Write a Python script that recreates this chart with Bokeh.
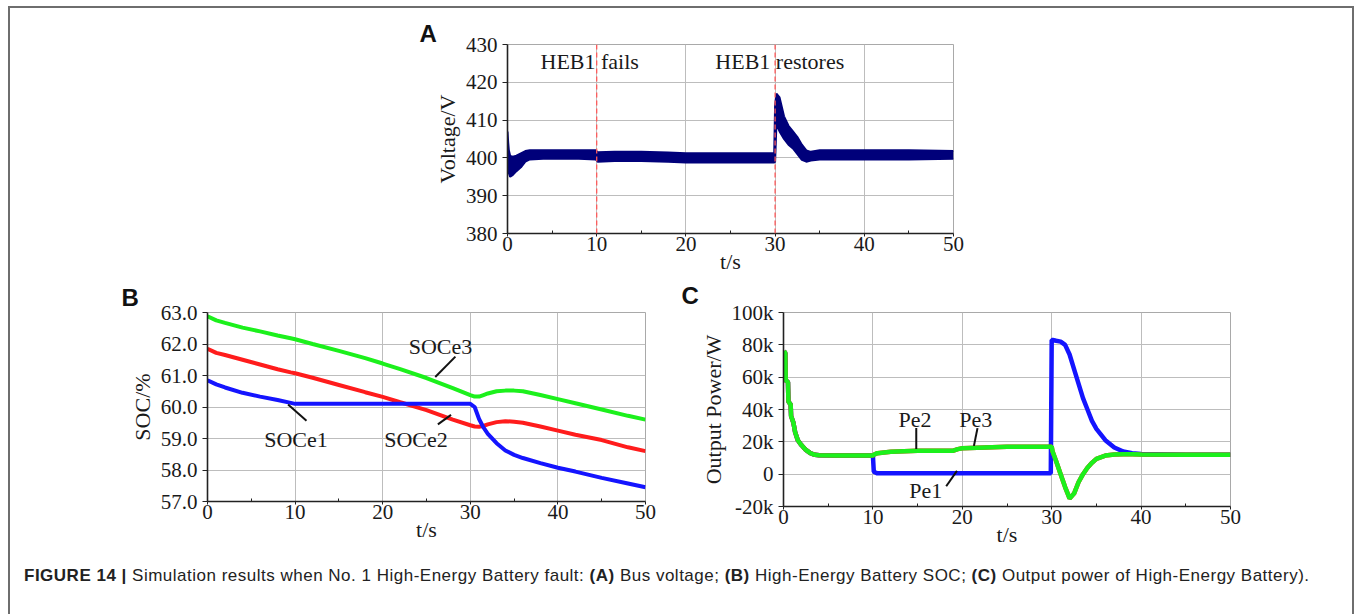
from bokeh.plotting import figure
from bokeh.models import Div, Span, FixedTicker, Range1d
from bokeh.layouts import column, row
from bokeh.embed import file_html
from bokeh.resources import INLINE
from bokeh.core.properties import value

SERIF = "Liberation Serif"
SANS = "Liberation Sans"
INK = "#1a1a1a"

# ---------------- data ----------------
x_ticks = [0, 10, 20, 30, 40, 50]
x_minor = [5, 15, 25, 35, 45]

# Panel A : bus voltage (upper / lower envelope of the ripple band)
voltage_ticks = [380, 390, 400, 410, 420, 430]
t_a = [0, 0.08, 0.15, 0.3, 0.6, 1.0, 1.5, 2.0, 2.5, 4, 6, 8, 9.9, 10.1, 12, 15, 18, 20,
       25, 29.9, 30.0, 30.15, 30.5, 31.0, 31.5, 32.0, 32.5, 33.0, 33.5, 34.0, 35, 40, 45, 50]
v_upper = [407, 404, 402, 400.5, 400.3, 400.6, 401.2, 401.8, 402.0, 402.0, 402.0, 402.0,
           402.0, 401.5, 401.6, 401.6, 401.4, 401.2, 401.2, 401.2, 414, 417, 416, 411,
           408.5, 407, 405.5, 403.5, 402.0, 401.6, 402, 402, 402, 401.8]
v_lower = [399, 397, 396, 395, 395.5, 396.5, 397.5, 399.0, 399.6, 399.8, 399.8, 399.8,
           399.6, 399.0, 399.2, 399.2, 399.0, 398.8, 398.8, 398.8, 399.0, 409, 407, 405,
           403.5, 402.5, 401, 399.5, 399.0, 399.3, 399.6, 399.6, 399.6, 399.8]
event_times = [10, 30]
event_names = ["HEB1 fails", "HEB1 restores"]

# Panel B : SOC of the three high-energy batteries
soc_ticks = [57, 58, 59, 60, 61, 62, 63]
soc_tick_labels = ["57.0", "58.0", "59.0", "60.0", "61.0", "62.0", "63.0"]
t_b = [0, 1, 2, 4, 6, 8, 9.5, 10, 12, 15, 18, 20, 22, 25, 28, 30, 30.5, 31, 31.5, 32,
       33, 34, 35, 36, 38, 40, 42, 45, 48, 50]
soc_e1 = [60.85, 60.72, 60.62, 60.45, 60.33, 60.22, 60.13, 60.1, 60.1, 60.1, 60.1, 60.1,
          60.1, 60.1, 60.1, 60.1, 60.0, 59.62, 59.35, 59.15, 58.85, 58.62, 58.48, 58.38,
          58.22, 58.07, 57.95, 57.75, 57.57, 57.45]
soc_e2 = [61.85, 61.72, 61.65, 61.5, 61.35, 61.2, 61.1, 61.07, 60.93, 60.7, 60.47, 60.32,
          60.15, 59.9, 59.6, 59.42, 59.38, 59.37, 59.4, 59.45, 59.52, 59.55, 59.53, 59.5,
          59.38, 59.25, 59.12, 58.95, 58.72, 58.6]
soc_e3 = [62.88, 62.75, 62.67, 62.52, 62.4, 62.27, 62.18, 62.15, 62.0, 61.78, 61.55, 61.38,
          61.2, 60.92, 60.6, 60.38, 60.33, 60.33, 60.38, 60.43, 60.5, 60.52, 60.52, 60.5,
          60.38, 60.25, 60.12, 59.92, 59.72, 59.6]

# Panel C : output power of the three high-energy batteries
power_ticks = [-20000, 0, 20000, 40000, 60000, 80000, 100000]
power_tick_labels = ["-20k", "0", "20k", "40k", "60k", "80k", "100k"]
t_c = [0.05, 0.2, 0.25, 0.5, 0.55, 0.8, 0.85, 1.1, 1.3, 1.6, 2.0, 2.5, 3.0, 3.5, 4.0, 6,
       9.9, 10.0, 10.1, 10.5, 12, 15, 19, 19.5, 20, 25, 29.9, 30.0, 30.1, 30.5, 31, 31.5,
       32, 32.5, 33, 33.5, 34, 34.5, 35, 36, 37, 38, 39, 40, 45, 50]
p_e1 = [76000, 75000, 58000, 57000, 45000, 43000, 36000, 32000, 26000, 21000, 18000, 15000,
        13000, 12000, 11700, 11500, 11500, 11500, 1500, 500, 500, 500, 500, 500, 500, 500,
        500, 83000, 83000, 82500, 82000, 80000, 74000, 65000, 56000, 47000, 40000, 33000,
        28000, 21000, 16500, 14000, 13000, 12500, 12000, 12000]
p_e2 = [76000, 75000, 58000, 57000, 45000, 43000, 36000, 32000, 26000, 21000, 18000, 15000,
        13000, 12000, 11700, 11500, 11500, 11500, 12000, 13000, 13800, 14500, 14500, 15500,
        16000, 17000, 17000, 17000, 14000, 8000, 0, -8000, -15000, -12000, -5000, 0, 4000,
        7000, 9500, 11500, 12200, 12300, 12300, 12200, 12000, 12000]
p_e3 = [76000, 75000, 58000, 57000, 45000, 43000, 36000, 32000, 26000, 21000, 18000, 15000,
        13000, 12000, 11700, 11500, 11500, 11500, 12000, 13000, 13800, 14500, 14500, 15500,
        16000, 17000, 17000, 17000, 14000, 8000, 0, -8000, -15000, -12000, -5000, 0, 4000,
        7000, 9500, 11500, 12200, 12300, 12300, 12200, 12000, 12000]

NAVY = "#00007a"
BLUE = "#1414ff"
RED = "#ff1c1c"
GREEN = "#1cf01c"


def make_fig(letter, frame_w, frame_h, xr, yr, borders, margin, offset, standoff):
    L, R, T, B = borders
    p = figure(title=letter, x_range=Range1d(*xr), y_range=Range1d(*yr),
               frame_width=frame_w, frame_height=frame_h, min_border_left=L,
               min_border_right=R, min_border_top=T, min_border_bottom=B,
               output_backend="svg", toolbar_location=None, margin=margin)
    p.border_fill_color = None
    p.background_fill_color = "white"
    p.outline_line_color = "#a9a9a9"
    p.grid.grid_line_color = "#bdbdbd"
    p.grid.grid_line_width = 1
    p.title.text_font = SANS
    p.title.text_font_size = "24px"
    p.title.text_font_style = "bold"
    p.title.text_color = "#111111"
    p.title.align = "left"
    p.title.offset = offset
    p.title.standoff = standoff
    return p


def style_axes(p, yticks, ylabels, ylabel):
    p.xaxis.ticker = FixedTicker(ticks=x_ticks, minor_ticks=x_minor)
    p.yaxis.ticker = FixedTicker(ticks=yticks)
    p.xgrid.ticker = FixedTicker(ticks=x_ticks)
    p.ygrid.ticker = FixedTicker(ticks=yticks)
    p.yaxis.major_label_overrides = {v: l for v, l in zip(yticks, ylabels)}
    p.xaxis.major_label_overrides = {v: str(v) for v in x_ticks}
    p.xaxis.axis_label = "t/s"
    p.yaxis.axis_label = ylabel
    for ax in (p.xaxis[0], p.yaxis[0]):
        ax.axis_label_text_font = SERIF
        ax.axis_label_text_font_size = "22px"
        ax.axis_label_text_font_style = "normal"
        ax.axis_label_text_color = INK
        ax.major_label_text_font = SERIF
        ax.major_label_text_font_size = "21px"
        ax.major_label_text_color = INK
        ax.axis_line_color = "#222222"
        ax.axis_line_width = 1.6
        ax.major_tick_line_color = "#222222"
        ax.minor_tick_line_color = "#222222"
    p.xaxis.major_tick_in = 0
    p.xaxis.major_tick_out = 3
    p.xaxis.minor_tick_in = 3
    p.xaxis.minor_tick_out = 0
    p.xaxis.major_label_standoff = 0
    p.xaxis.axis_label_standoff = -5
    p.yaxis.major_tick_in = 0
    p.yaxis.major_tick_out = 5
    p.yaxis.minor_tick_in = 0
    p.yaxis.minor_tick_out = 0
    p.yaxis.major_label_standoff = 5
    p.yaxis.axis_label_standoff = 3


def leader(p, xs, ys):
    p.line(xs, ys, line_color="#111111", line_width=2)


def tag(p, x, y, txt, align="center"):
    p.text([x], [y], text=[txt], text_font=value(SERIF), text_font_size="22px",
           text_color=INK, text_align=align, text_baseline="middle")


# ---------------- Panel A ----------------
pa = make_fig("A", 446, 189, (0, 50), (380, 430), (90, 20, 36, 50), (0, 0, 0, 407), -88, -4)
style_axes(pa, voltage_ticks, [str(v) for v in voltage_ticks], "Voltage/V")
for t in event_times:
    pa.add_layout(Span(location=t, dimension="height", line_color="#ff5a5a",
                       line_dash="5 3", line_width=1.3))
pa.varea(x=t_a, y1=v_lower, y2=v_upper, fill_color=NAVY)
pa.line(t_a, v_upper, line_color=NAVY, line_width=2)
pa.line(t_a, v_lower, line_color=NAVY, line_width=2)
tag(pa, 3.7, 425.4, event_names[0], align="left")
tag(pa, 23.3, 425.4, event_names[1], align="left")

# ---------------- Panel B ----------------
pb = make_fig("B", 438, 189, (0, 50), (57, 63), (110, 28, 36, 50), (-10, 0, 0, 87), -86, 4)
style_axes(pb, soc_ticks, soc_tick_labels, "SOC/%")
pb.line(t_b, soc_e3, line_color=GREEN, line_width=4)
pb.line(t_b, soc_e2, line_color=RED, line_width=4)
pb.line(t_b, soc_e1, line_color=BLUE, line_width=4)
tag(pb, 26.6, 61.92, "SOCe3")
leader(pb, [28.3, 26.0], [61.6, 60.95])
tag(pb, 10.1, 58.98, "SOCe1")
leader(pb, [11.3, 9.2], [59.56, 60.08])
tag(pb, 23.8, 58.98, "SOCe2")
leader(pb, [26.3, 27.8], [59.45, 59.75])

# ---------------- Panel C ----------------
pc = make_fig("C", 447, 194, (0, 50), (-20000, 100000), (110, 20, 39, 50), (-10, 0, 0, 0), -102, 7)
style_axes(pc, power_ticks, power_tick_labels, "Output Power/W")
pc.line(t_c, p_e1, line_color=BLUE, line_width=4.5)
pc.line(t_c, p_e2, line_color=RED, line_width=4.5)
pc.line(t_c, p_e3, line_color=GREEN, line_width=4.5)
tag(pc, 14.7, 34000, "Pe2")
leader(pc, [14.85, 14.85], [28500, 15500])
tag(pc, 21.5, 34000, "Pe3")
leader(pc, [21.7, 21.3], [28500, 17500])
tag(pc, 15.9, -10000, "Pe1")
leader(pc, [18.2, 19.4], [-7500, 2000])

# ---------------- frame + caption ----------------
GREY = "#6e6e6e"
caption_html = (
    "<div style=\"font-family:'Liberation Sans',Arial,sans-serif;font-size:17px;"
    "letter-spacing:0.5px;color:#222;line-height:18px;white-space:nowrap\">"
    "<b>FIGURE 14 |</b> Simulation results when No. 1 High-Energy Battery fault: "
    "<b>(A)</b> Bus voltage; <b>(B)</b> High-Energy Battery SOC; "
    "<b>(C)</b> Output power of High-Energy Battery).</div>")
caption = Div(text=caption_html, width=1328, height=24, margin=(11, 0, 0, 14))

content = column(pa, row(pb, pc, spacing=0), caption, spacing=0)
top_line = Div(text="", width=1346, height=2, margin=(6, 0, 0, 8),
               styles={"background-color": GREY})
left_line = Div(text="", width=2, height=606, margin=(0, 0, 0, 8),
                styles={"background-color": GREY})
right_line = Div(text="", width=2, height=606, margin=(0, 0, 0, 0),
                 styles={"background-color": GREY})
root = column(top_line, row(left_line, content, right_line, spacing=0), spacing=0)

open("out.html", "w").write(file_html(root, INLINE))
